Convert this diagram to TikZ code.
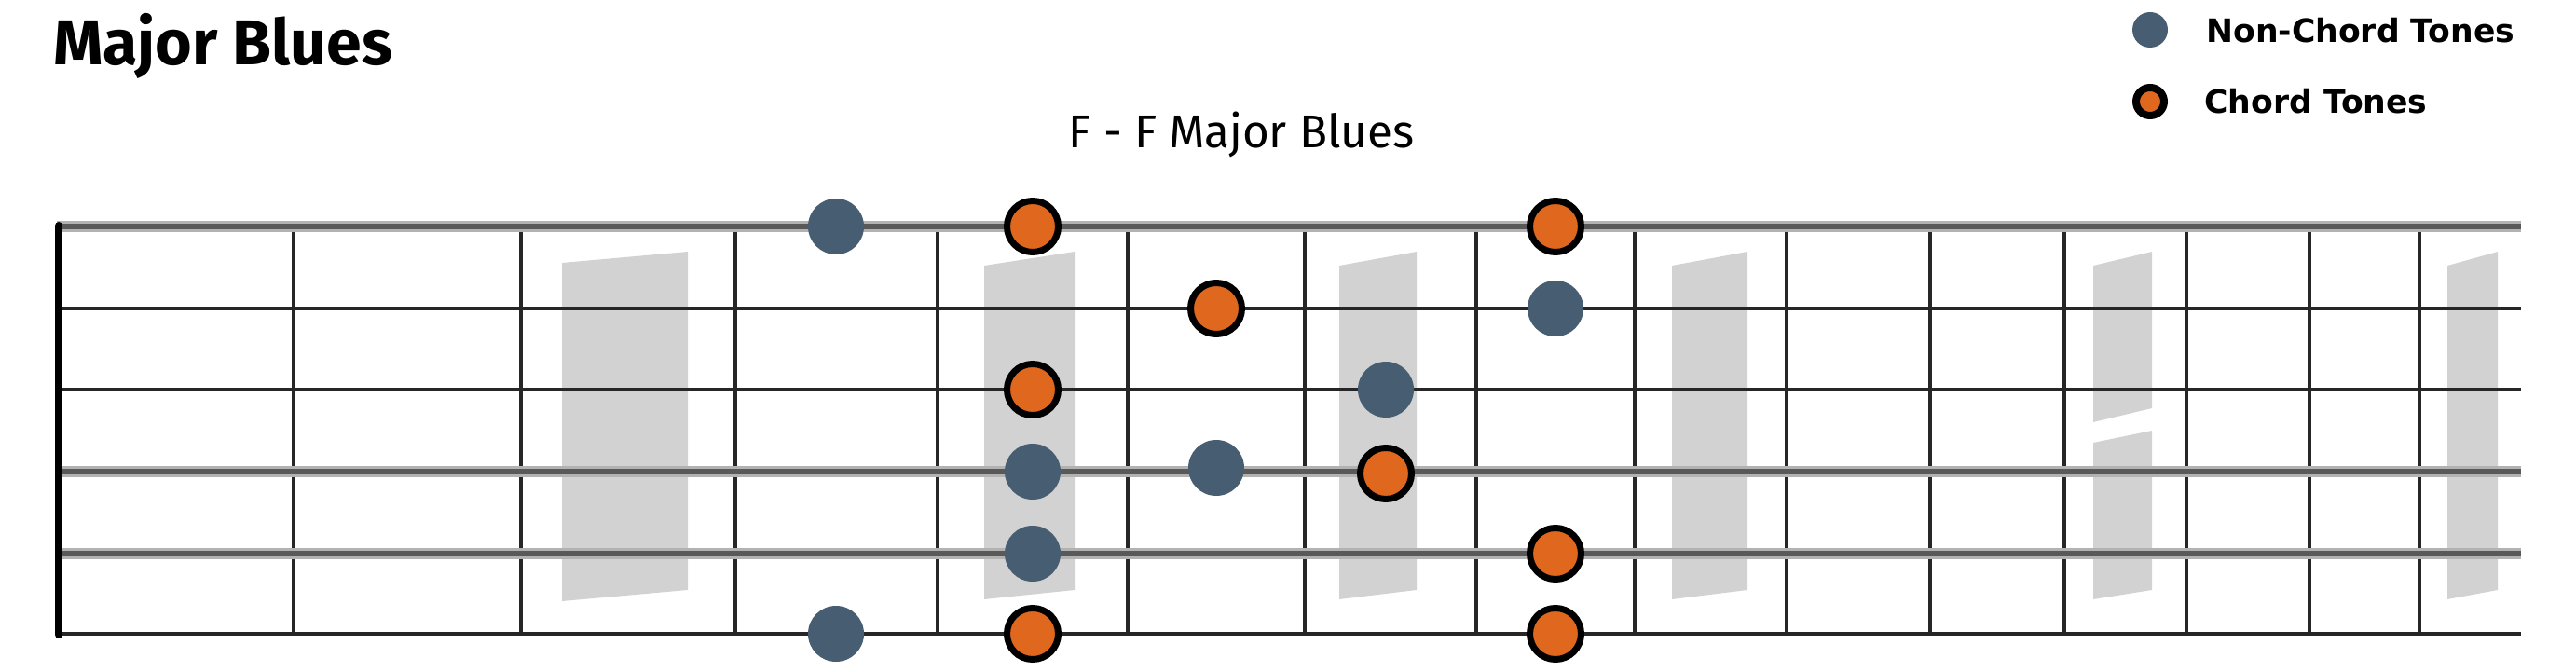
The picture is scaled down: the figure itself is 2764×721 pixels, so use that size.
\documentclass[tikz,border=0pt]{standalone}
\usepackage{fontspec}
\setmainfont{Fira Sans}
\newfontfamily\legendfont{DejaVu Sans}
\definecolor{nct}{HTML}{475D71}
\definecolor{ct}{HTML}{E0681E}
\definecolor{inlay}{HTML}{D2D2D2}
\tikzset{
  ncdot/.style={circle,fill=nct,draw=none,minimum size=30pt,inner sep=0pt},
  cdot/.style={circle,fill=ct,draw=black,line width=3.5pt,minimum size=27.5pt,inner sep=0pt},
  fretline/.style={draw=black!85,line width=1.6pt},
  thinstring/.style={draw=black!85,line width=2.2pt},
  halo/.style={draw=black!30,line width=6pt},
  thickcore/.style={draw=black!65,line width=2.6pt},
  inlaybox/.style={fill=inlay,draw=none},
  legendtext/.style={anchor=base west,inner sep=0pt,font=\legendfont\fontsize{17.3pt}{20pt}\selectfont\bfseries},
}
\begin{document}
\begin{tikzpicture}[x=0.5pt,y=-0.5pt]
\useasboundingbox (0,0) rectangle (2764,721);
% inlays
\fill[inlaybox] (603,282) -- (738,270) -- (738,633) -- (603,645) -- cycle;
\fill[inlaybox] (1056,285) -- (1153,270) -- (1153,633) -- (1056,643) -- cycle;
\fill[inlaybox] (1437,285) -- (1520,270) -- (1520,633) -- (1437,643) -- cycle;
\fill[inlaybox] (1794,285) -- (1875,270) -- (1875,633) -- (1794,643) -- cycle;
\fill[inlaybox] (2246,285) -- (2309,270) -- (2309,438) -- (2246,453) -- cycle;
\fill[inlaybox] (2246,475) -- (2309,462) -- (2309,633) -- (2246,643) -- cycle;
\fill[inlaybox] (2626,285) -- (2680,270) -- (2680,633) -- (2626,643) -- cycle;
% frets
\foreach \fx in {315,559,789,1006,1210,1400,1584,1754,1917,2071,2215,2346,2478,2596}
  \draw[fretline] (\fx,243) -- (\fx,681);
% strings
\draw[halo] (61,243) -- (2705,243);
\draw[thickcore] (61,243) -- (2705,243);
\draw[thinstring] (61,331) -- (2705,331);
\draw[thinstring] (61,418) -- (2705,418);
\draw[halo] (61,506) -- (2705,506);
\draw[thickcore] (61,506) -- (2705,506);
\draw[halo] (61,594) -- (2705,594);
\draw[thickcore] (61,594) -- (2705,594);
\draw[thinstring] (61,680) -- (2705,680);
% nut
\draw[black,line width=4pt,line cap=round,rounded corners=4pt] (63,242) -- (63,681);
% texts
\node[anchor=base west,inner sep=0pt,font=\fontsize{34pt}{38pt}\selectfont\bfseries] (title) at (57,70) {Major Blues};
\node[anchor=base,inner sep=0pt,font=\fontsize{24.7pt}{28pt}\selectfont] (sub) at (1332,159) {F - F Major Blues};
% legend
\node[circle,fill=nct,minimum size=19pt,inner sep=0pt] (lg1) at (2307,32) {};
\node[circle,fill=ct,draw=black,line width=4pt,minimum size=15pt,inner sep=0pt] (lg2) at (2307,109) {};
\node[legendtext] (lt1) at (2367,46) {Non-Chord Tones};
\node[legendtext] (lt2) at (2365,122) {Chord Tones};
% dots
\node[ncdot] (d1a) at (897,243) {};
\node[cdot] (d1b) at (1108,243) {};
\node[cdot] (d1c) at (1669,243) {};
\node[cdot] (d2a) at (1305,331) {};
\node[ncdot] (d2b) at (1669,331) {};
\node[cdot] (d3a) at (1108,418) {};
\node[ncdot] (d3b) at (1487,418) {};
\node[ncdot] (d4a) at (1108,506) {};
\node[ncdot] (d4b) at (1305,502) {};
\node[cdot] (d4c) at (1487,508) {};
\node[ncdot] (d5a) at (1108,594) {};
\node[cdot] (d5b) at (1669,594) {};
\node[ncdot] (d6a) at (897,680) {};
\node[cdot] (d6b) at (1108,680) {};
\node[cdot] (d6c) at (1669,680) {};
\end{tikzpicture}
\end{document}
